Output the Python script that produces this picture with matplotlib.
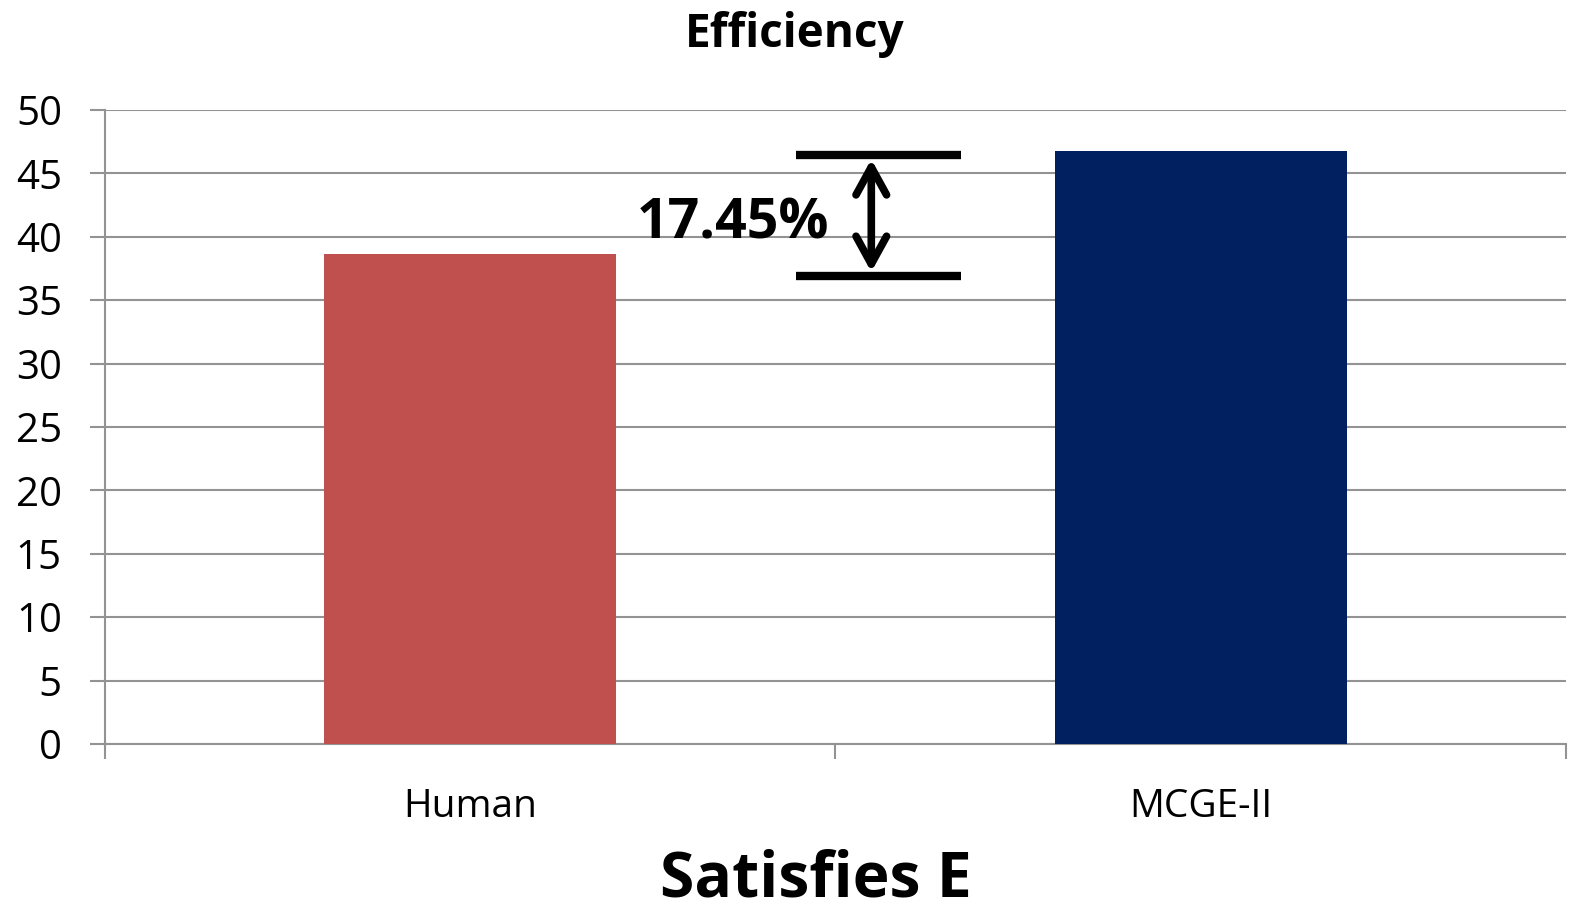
import numpy as np
import matplotlib.pyplot as plt

categories = ['Human', 'MCGE-II']
values = [38.65, 46.8]
colors = ['#C0504D', '#002060']
gain_label = '17.45%'
bracket_low, bracket_high = 36.9, 46.45

plt.rcParams['font.family'] = ['Open Sans', 'DejaVu Sans']

fig = plt.figure(figsize=(15.69, 9.11), dpi=100)
ax = fig.add_axes([105 / 1569, 1 - 744 / 911, (1566 - 105) / 1569, (744 - 110) / 911])

x = np.arange(len(categories))
ax.bar(x, values, width=0.4, color=colors, zorder=3)

ax.set_xlim(-0.5, 1.5)
ax.set_ylim(0, 50)
ax.set_yticks(np.arange(0, 51, 5))
ax.set_xticks([-0.5, 0.5, 1.5], minor=False)
ax.set_xticklabels([])
ax.set_xticks(x, minor=True)
ax.set_xticklabels(categories, minor=True)

grid_c = '#939393'
ax.yaxis.grid(True, color=grid_c, linewidth=1.5, zorder=0)
for s in ['top', 'right']:
    ax.spines[s].set_visible(False)
ax.spines['left'].set_color(grid_c)
ax.spines['bottom'].set_color(grid_c)
ax.spines['left'].set_linewidth(1.5)
ax.spines['bottom'].set_linewidth(1.5)
ax.tick_params(axis='y', which='major', length=11, width=1.5, color=grid_c,
               labelsize=29, pad=20)
ax.tick_params(axis='x', which='major', length=11, width=1.5, color=grid_c)
ax.tick_params(axis='x', which='minor', length=0, labelsize=28, pad=32)

# bracket showing the gain between the two bars
ax.plot([0.446, 0.672], [bracket_high, bracket_high], color='black', lw=6,
        solid_capstyle='butt', zorder=4)
ax.plot([0.446, 0.672], [bracket_low, bracket_low], color='black', lw=6,
        solid_capstyle='butt', zorder=4)
ax.annotate('', xy=(0.549, bracket_high), xytext=(0.549, bracket_low),
            arrowprops=dict(arrowstyle='<->,head_length=2.0,head_width=1.1',
                            color='black', lw=5.5, shrinkA=3, shrinkB=3,
                            joinstyle='round', capstyle='round'),
            zorder=5)
ax.text(0.492, 41.0, gain_label, ha='right', va='center', fontsize=40,
        fontweight='bold', zorder=5)

fig.text(795 / 1569, 1 - 35 / 911, 'Efficiency', ha='center', va='center',
         fontsize=33, fontweight='bold')
fig.text(816 / 1569, 1 - 880 / 911, 'Satisfies E', ha='center', va='center',
         fontsize=45, fontweight='bold')

fig.savefig('out.png', dpi=100)
